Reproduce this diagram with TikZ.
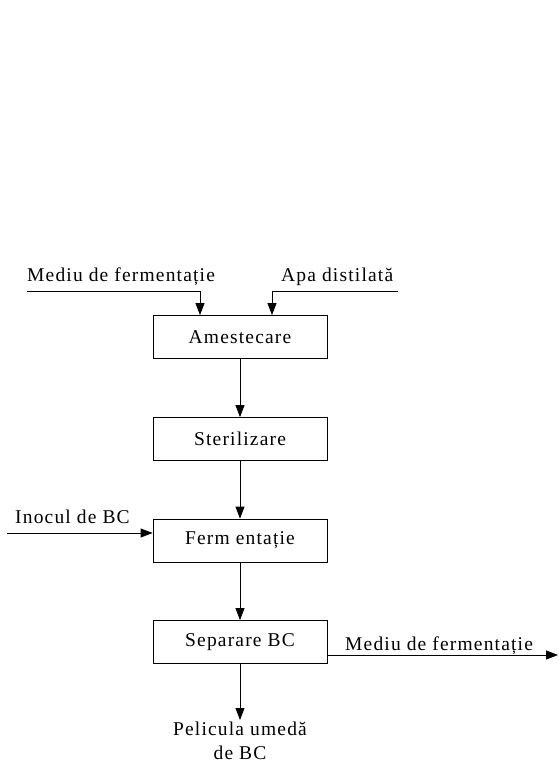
\documentclass[tikz,border=0pt]{standalone}
\usepackage{fontspec}
\setmainfont{Liberation Serif}[LetterSpace=6]
\usetikzlibrary{arrows.meta}
\begin{document}
\begin{tikzpicture}[x=1pt,y=-1pt,
  font=\fontsize{19.5}{24}\selectfont,
  stage/.style={draw, line width=0.8pt, minimum width=174pt, minimum height=43pt, inner sep=0pt},
  flow/.style={line width=0.8pt, -{Triangle[length=12pt,width=9pt]}},
  lbl/.style={inner sep=0pt, anchor=base}]
\useasboundingbox (0,0) rectangle (558,765);
% process stages
\node[stage] (mix)  at (240,337) {Amestecare};
\node[stage] (ster) at (240,439) {Sterilizare};
\node[stage] (ferm) at (240,540.5) {Ferm entație};
\node[stage] (sep)  at (240,642) {Separare BC};
% inputs to mixing
\node[lbl, anchor=base west] (lmed) at (27,281) {Mediu de fermentație};
\node[lbl, anchor=base west] (lapa) at (281,281) {Apa distilată};
\coordinate (m0) at (27,291);
\coordinate (m1) at (200,291);
\coordinate (a0) at (398,291);
\coordinate (a1) at (272,291);
\draw[flow] (m0) -- (m1) -- (m1 |- mix.north);
\draw[flow] (a0) -- (a1) -- (a1 |- mix.north);
% main line
\draw[flow] (mix) -- (ster);
\draw[flow] (ster) -- (ferm);
\draw[flow] (ferm) -- (sep);
% inoculum
\node[lbl, anchor=base west] (linoc) at (15,523) {Inocul de BC};
\coordinate (i0) at (7,533);
\draw[flow] (i0) -- (i0 -| ferm.west);
% outputs
\node[lbl, anchor=base west] (lout) at (345,650) {Mediu de fermentație};
\coordinate (o1) at (558,655);
\draw[flow] (o1 -| sep.east) -- (o1);
\coordinate (p1) at (240,720);
\draw[flow] (sep) -- (p1);
\node[lbl, align=center, font=\fontsize{19.5}{24}\selectfont] (film) at (240,759) {Pelicula umedă\\de BC};
\end{tikzpicture}
\end{document}
